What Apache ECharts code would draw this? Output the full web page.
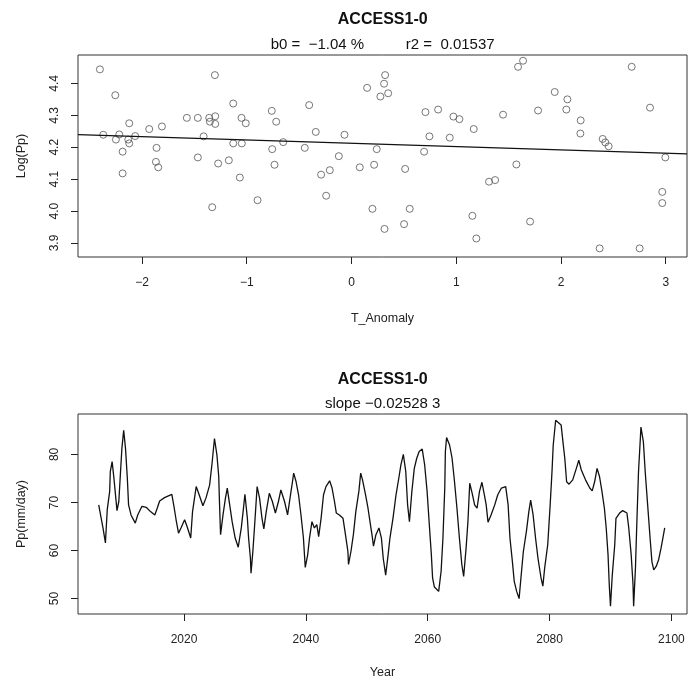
<!DOCTYPE html>
<html>
<head>
<meta charset="utf-8">
<script src="https://cdn.jsdelivr.net/npm/echarts@6/dist/echarts.min.js"></script>
<style>
html, body { margin: 0; padding: 0; background: #fff; }
#chart { width: 690px; height: 680px; }
</style>
</head>
<body>
<div id="chart"></div>
<script>
document.addEventListener('DOMContentLoaded', function() {

/* DATOS DEL DIAGRAMA DE DISPERSION (T_Anomaly vs Log(Pp)) */
var tAnomaly = [-2.402,-2.255,-2.122,-2.370,-2.217,-2.249,-2.131,-2.122,-2.065,-2.185,-2.185,-1.931,-1.810,-1.861,-1.867,-1.845,-1.572,-1.467,-1.358,-1.301,
  -1.352,-1.301,-1.304,-1.412,-1.467,-1.273,-1.330,-1.129,-1.050,-1.009,-1.129,-1.047,-1.171,-1.066,-0.897,-0.761,-0.719,-0.757,-0.735,-0.652,
  -0.404,-0.341,-0.446,-0.067,-0.121,-0.290,-0.207,-0.242,0.079,0.216,0.241,0.149,0.321,0.311,0.276,0.350,0.512,0.200,0.315,0.556,
  0.502,0.706,0.827,0.744,0.693,0.973,1.030,0.938,1.167,1.154,1.192,
  1.313,1.371,1.590,1.638,1.447,1.574,1.705,1.781,1.940,2.061,2.051,2.188,2.185,2.398,2.423,2.455,2.369,2.675,2.850,2.996,2.967,2.967,2.751];
var logPp = [4.444,4.363,4.275,4.239,4.240,4.224,4.224,4.212,4.235,4.186,4.118,4.257,4.265,4.198,4.154,4.137,4.292,4.292,4.292,4.297,
  4.280,4.273,4.426,4.234,4.168,4.149,4.012,4.337,4.292,4.275,4.212,4.212,4.159,4.105,4.034,4.314,4.280,4.194,4.145,4.216,
  4.332,4.248,4.198,4.239,4.172,4.114,4.128,4.048,4.137,4.145,4.194,4.386,4.426,4.399,4.359,4.369,4.132,4.007,3.944,4.007,
  3.959,4.310,4.318,4.234,4.186,4.296,4.288,4.230,4.257,3.985,3.914,
  4.092,4.097,4.452,4.471,4.302,4.146,3.967,4.315,4.373,4.350,4.318,4.284,4.243,4.226,4.215,4.203,3.883,4.452,4.324,4.168,4.060,4.025,3.883];

/* RECTA DE REGRESION */
var regIntercept = 4.2125;
var regSlope = -0.0104;

/* SERIE TEMPORAL Pp (mm/day) */
var years = [2006.0,2006.3,2006.7,2007.1,2007.4,2007.8,2007.9,2008.2,2008.5,2008.7,2009.0,2009.3,2009.6,2009.8,2010.1,2010.4,2010.7,2010.9,2011.3,2012.0,
  2012.4,2013.1,2013.8,2014.5,2015.2,2015.6,2016.0,2016.8,2018.0,2018.4,2018.7,2019.1,2019.5,2020.1,2020.5,2021.1,2021.4,2022.0,2022.4,2023.1,
  2023.6,2024.2,2024.6,2025.0,2025.4,2025.7,2025.8,2026.0,2026.4,2026.8,2027.1,2027.5,2027.9,2028.4,2028.9,2029.4,2029.7,2030.0,2030.4,2030.6,
  2030.9,2031.0,2031.3,2031.6,2032.0,2032.4,2032.8,2033.1,2033.5,2034.0,2034.5,2035.0,2035.5,2035.9,2036.5,2037.0,2037.4,2037.8,2038.0,2038.4,
  2038.8,2039.2,2039.6,2039.9,2040.3,2040.6,2041.0,2041.4,2041.8,2042.1,2042.5,2042.9,2043.3,2043.9,2044.3,2044.7,2045.0,2045.5,2046.1,2046.5,
  2046.9,2047.0,2047.4,2047.8,2048.2,2048.7,2049.0,2049.3,2049.8,2050.2,2050.6,2050.9,2051.1,2051.5,2052.0,2052.4,2052.7,2053.1,2053.5,2053.8,
  2054.3,2054.8,2055.3,2055.6,2056.0,2056.4,2056.7,2057.0,2057.4,2057.8,2058.2,2058.6,2059.1,2059.5,2059.9,2060.3,2060.6,2060.8,2061.1,2061.8,
  2062.2,2062.5,2062.8,2062.9,2063.1,2063.6,2064.0,2064.4,2064.8,2065.2,2065.6,2065.9,2066.3,2066.6,2066.9,2067.3,2067.7,2068.1,2068.5,2068.9,
  2069.3,2069.6,2069.9,2070.4,2071.0,2071.5,2072.1,2072.8,2073.2,2073.5,2073.9,2074.2,2074.6,2075.0,2075.3,2075.7,2076.2,2076.6,2076.9,2077.3,
  2077.7,2078.1,2078.6,2078.9,2079.2,2079.7,2080.1,2080.4,2080.6,2081.0,2081.9,2082.2,2082.5,2082.8,2083.2,2083.8,2084.4,2084.8,2085.2,2085.9,
  2086.6,2087.0,2087.4,2087.8,2088.2,2088.6,2089.0,2089.3,2089.6,2089.8,2090.0,2090.3,2090.7,2090.9,2091.5,2092.0,2092.7,2093.0,2093.4,2093.7,
  2093.8,2094.1,2094.3,2094.6,2094.9,2095.0,2095.4,2095.7,2096.1,2096.5,2096.8,2097.1,2097.5,2097.9,2098.3,2098.6,2098.9];
var pp = [69.5,67.4,64.7,61.6,68.5,72.3,76.4,78.5,75.0,72.3,68.3,70.2,76.8,81.2,85.0,81.2,75.0,69.5,67.4,65.7,
  67.4,69.2,69.0,68.1,67.4,68.8,70.3,71.0,71.7,68.8,66.4,63.6,64.7,66.4,65.0,62.6,68.1,73.3,71.9,69.3,
  70.9,73.6,78.1,83.3,79.9,75.4,70.9,63.3,67.4,70.9,73.0,69.5,66.0,62.6,60.7,64.7,68.1,71.7,66.7,62.6,
  58.4,55.3,59.8,65.4,73.3,70.9,66.7,64.5,68.1,71.9,70.2,67.8,70.2,72.6,70.2,67.4,70.9,74.3,76.1,74.3,
  71.6,67.4,62.6,56.5,59.1,62.6,66.0,64.7,65.4,62.9,66.7,71.6,73.3,74.5,73.0,70.2,67.8,67.4,66.7,63.3,
  59.8,57.1,59.8,63.3,68.1,72.3,76.1,74.7,71.6,68.8,65.4,62.9,60.9,63.3,64.7,62.6,58.4,54.9,59.1,62.6,
  66.7,71.6,75.4,77.8,80.0,76.4,69.5,66.0,72.3,77.1,79.2,80.6,81.1,77.8,72.3,64.7,59.1,54.3,52.4,51.5,
  55.7,62.6,73.0,80.6,83.5,81.9,79.2,74.3,68.8,62.6,57.1,54.6,60.5,66.0,74.0,71.9,69.5,68.8,72.3,74.2,
  71.6,69.5,65.9,67.4,69.5,71.6,73.0,73.3,69.5,62.6,57.7,53.6,51.5,50.0,54.3,59.8,64.0,68.1,70.5,67.4,
  62.6,58.4,54.3,52.6,56.4,61.2,69.5,76.4,81.9,87.1,86.1,82.6,79.2,74.3,73.8,74.7,77.1,78.8,76.8,74.7,
  73.0,72.4,74.3,77.1,75.4,72.3,68.8,64.7,59.1,52.9,48.4,55.0,61.2,66.7,67.8,68.3,67.8,64.7,59.1,52.9,
  48.4,56.4,64.7,76.4,83.3,85.7,82.6,76.4,69.5,62.6,57.7,56.0,56.7,58.1,60.5,62.6,64.7];

/* MARCAS DE LOS EJES */
var topXTicks = [-2, -1, 0, 1, 2, 3];
var topYTicks = [3.9, 4.0, 4.1, 4.2, 4.3, 4.4];
var botXTicks = [2020, 2040, 2060, 2080, 2100];
var botYTicks = [50, 60, 70, 80];

var FONT = '"Liberation Sans", Arial, sans-serif';
var INK = '#222';
var MINUS = '\u2212';

var topX = [-2.611, 3.203];
var topY = [3.856, 4.489];
var botX = [2002.6, 2102.56];
var botY = [46.8, 88.4];

function fmt(v, dec) {
  var s = dec ? Math.abs(v).toFixed(dec) : String(Math.abs(v));
  return (v < 0 ? MINUS : '') + s;
}

function ejeX(idx, range, ticks, name, gap) {
  return {
    type: 'value', gridIndex: idx, min: range[0], max: range[1],
    axisLine: { show: false, onZero: false },
    axisTick: { show: true, length: 7, customValues: ticks, lineStyle: { color: INK, width: 1 } },
    axisLabel: { customValues: ticks, margin: 20, fontFamily: FONT, fontSize: 12, color: INK,
      formatter: function (v) { return fmt(v, 0); } },
    splitLine: { show: false },
    name: name, nameLocation: 'middle', nameGap: gap,
    nameTextStyle: { fontFamily: FONT, fontSize: 12.5, color: INK }
  };
}

function ejeY(idx, range, ticks, dec, name, gap) {
  return {
    type: 'value', gridIndex: idx, min: range[0], max: range[1],
    axisLine: { show: false, onZero: false },
    axisTick: { show: true, length: 7, customValues: ticks, lineStyle: { color: INK, width: 1 } },
    axisLabel: { customValues: ticks, rotate: 90, margin: 17, fontFamily: FONT, fontSize: 12, color: INK,
      formatter: function (v) { return fmt(v, dec); } },
    splitLine: { show: false },
    name: name, nameLocation: 'middle', nameGap: gap,
    nameTextStyle: { fontFamily: FONT, fontSize: 12.5, color: INK }
  };
}

var puntos = tAnomaly.map(function (x, i) { return [x, logPp[i]]; });
var recta = [topX[0], topX[1]].map(function (x) { return [x, regIntercept + regSlope * x]; });
var serie = years.map(function (y, i) { return [y, pp[i]]; });

var cx = 382.7;

var option = {
  animation: false,
  backgroundColor: '#fff',
  grid: [
    { left: 78, right: 3, top: 55, height: 202, show: true, borderColor: '#333', borderWidth: 1 },
    { left: 78, right: 3, top: 414, height: 201, show: true, borderColor: '#333', borderWidth: 1 }
  ],
  xAxis: [
    ejeX(0, topX, topXTicks, 'T_Anomaly', 55),
    ejeX(1, botX, botXTicks, 'Year', 52)
  ],
  yAxis: [
    ejeY(0, topY, topYTicks, 1, 'Log(Pp)', 50),
    ejeY(1, botY, botYTicks, 0, 'Pp(mm/day)', 50)
  ],
  graphic: [
    { type: 'text', x: cx, y: 20, style: { text: 'ACCESS1-0', font: 'bold 16px ' + FONT, fill: '#111', textAlign: 'center', textVerticalAlign: 'middle' } },
    { type: 'text', x: cx, y: 45, style: { text: 'b0 =  ' + MINUS + '1.04 %          r2 =  0.01537', font: '15px ' + FONT, fill: '#111', textAlign: 'center', textVerticalAlign: 'middle' } },
    { type: 'text', x: cx, y: 380, style: { text: 'ACCESS1-0', font: 'bold 16px ' + FONT, fill: '#111', textAlign: 'center', textVerticalAlign: 'middle' } },
    { type: 'text', x: cx, y: 404, style: { text: 'slope ' + MINUS + '0.02528 3', font: '15px ' + FONT, fill: '#111', textAlign: 'center', textVerticalAlign: 'middle' } }
  ],
  series: [
    { type: 'scatter', xAxisIndex: 0, yAxisIndex: 0, data: puntos, symbol: 'circle', symbolSize: 7,
      itemStyle: { color: 'transparent', borderColor: '#555', borderWidth: 1 } },
    { type: 'line', xAxisIndex: 0, yAxisIndex: 0, data: recta, showSymbol: false, silent: true,
      lineStyle: { color: '#111', width: 1.3 } },
    { type: 'line', xAxisIndex: 1, yAxisIndex: 1, data: serie, showSymbol: false, silent: true,
      lineStyle: { color: '#111', width: 1.3 } }
  ]
};

var myChart = echarts.init(document.getElementById('chart'));
myChart.setOption(option);

});
</script>
</body>
</html>
